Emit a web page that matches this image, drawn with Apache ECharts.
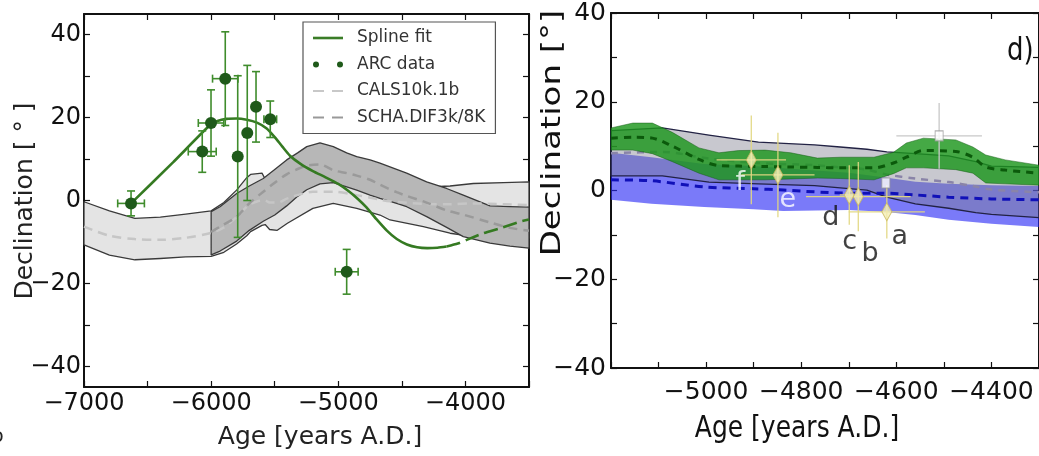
<!DOCTYPE html>
<html><head><meta charset="utf-8">
<script src="https://cdn.jsdelivr.net/npm/echarts@6/dist/echarts.min.js"></script>
<style>html,body{margin:0;padding:0;background:#fff;}#c{width:1039px;height:456px;}</style>
</head><body><div id="c"></div>
<script>
// ---------- LEFT PANEL DATA ----------
const leftXLabels = [-7000, -6000, -5000, -4000];
const leftXTicks = [-7000, -6500, -6000, -5500, -5000, -4500, -4000, -3500];
const leftYLabels = [-40, -20, 0, 20, 40];
const leftYTicks = [-40, -30, -20, -10, 0, 10, 20, 30, 40];

const arcAge    = [-6630, -6070, -6001, -5889, -5791, -5716, -5647, -5535, -4934];
const arcDec    = [-0.7, 11.8, 18.7, 29.4, 10.6, 16.3, 22.6, 19.6, -17.2];
const arcAgeErr = [105, 110, 100, 100, 0, 0, 0, 50, 90];
const arcDecErr = [3, 5, 8, 11.3, 19.5, 16.3, 8.5, 4.4, 5.4];

const splineAge = [-6630, -6300, -6009, -5950, -5880, -5800, -5720, -5640, -5563, -5500, -5440, -5380, -5300, -5200, -5100, -5000, -4920, -4850, -4780, -4700, -4620, -4540, -4460, -4380, -4300, -4220, -4148];
const splineDec = [-0.7, 9.2, 18.2, 19.2, 19.7, 19.8, 19.5, 18.8, 17.4, 15.3, 13.0, 10.8, 8.9, 7.1, 5.6, 4.0, 2.3, 0.5, -1.6, -4.5, -7.2, -9.3, -10.6, -11.3, -11.5, -11.4, -11.1];
const splineExtAge = [-4148, -4060, -3990, -3859, -3728, -3571, -3500];
const splineExtDec = [-11.1, -10.4, -9.5, -7.9, -6.7, -5.1, -4.6];

const calsAge   = [-7000, -6800, -6600, -6400, -6200, -6000, -5900, -5800, -5720, -5690, -5600, -5575, -5540, -5480, -5400, -5200, -5040, -4855, -4672, -4593, -4331, -4121, -3938, -3700, -3500];
const calsUpper = [-0.3, -2.5, -4.3, -4.0, -3.3, -2.5, -0.5, 2.5, 5.5, 6.3, 6.6, 5.2, 4.5, 4.5, 5.0, 5.5, 5.0, 4.5, 3.8, 3.5, 3.2, 3.5, 4.1, 4.3, 4.5];
const calsLower = [-10.7, -13.2, -14.3, -14.0, -13.6, -13.5, -12.5, -10.5, -8.5, -7.5, -6.0, -5.8, -7.0, -7.2, -5.5, -1.9, -0.7, -1.9, -3.5, -4.7, -6.3, -7.9, -8.7, -9.0, -9.1];
const calsMid   = [-6.3, -8.5, -9.3, -9.5, -9.0, -7.8, -6.5, -4.0, -1.5, -0.8, 0.0, 0.0, -0.5, -0.5, 0.5, 2.1, 2.1, 1.3, 0.2, -0.2, -0.8, -0.9, -0.7, -0.9, -1.1];

const schaAge   = [-6000, -5930, -5799, -5700, -5590, -5500, -5406, -5320, -5248, -5144, -5039, -4934, -4855, -4750, -4672, -4541, -4462, -4305, -4148, -4017, -3807, -3650, -3500];
const schaUpper = [-2.7, -1.5, 1.7, 3.5, 5.3, 7.5, 9.8, 11.5, 13.0, 13.9, 13.0, 11.5, 10.6, 9.8, 9.0, 7.5, 6.6, 4.5, 2.9, 1.3, -1.3, -1.5, -1.6];
const schaLower = [-13.1, -12.2, -9.8, -7.2, -5.0, -3.5, -1.3, 1.0, 2.6, 4.0, 4.3, 3.3, 2.5, 1.3, 0.5, -0.7, -1.5, -3.9, -6.5, -8.7, -10.3, -11.0, -11.5];
const schaMid   = [-7.6, -6.3, -3.9, -0.7, 2.1, 4.3, 6.3, 7.6, 8.4, 8.7, 7.3, 6.6, 6.0, 5.0, 3.8, 2.0, 1.1, -0.5, -2.4, -3.4, -5.3, -6.6, -7.3];

// ---------- RIGHT PANEL DATA ----------
const rightXLabels = [-5000, -4800, -4600, -4400];
const rightYLabels = [-40, -20, 0, 20, 40];

const greenAge   = [-5200, -5154, -5113, -5071, -5015, -4973, -4932, -4876, -4822, -4766, -4718, -4647, -4606, -4579, -4543, -4475, -4439, -4412, -4371, -4300];
const greenUpper = [14.1, 15.2, 15.2, 13.1, 9.6, 8.5, 9.0, 9.1, 8.5, 7.3, 7.5, 7.5, 8.6, 10.7, 11.8, 11.4, 9.8, 8.0, 6.9, 5.7];
const greenLower = [9.1, 9.1, 8.3, 6.5, 3.9, 2.4, 2.4, 2.4, 2.6, 2.8, 2.7, 2.4, 3.8, 5.1, 5.1, 4.7, 3.9, 1.7, 1.5, 1.2];
const greenMid   = [11.8, 12.0, 11.8, 10.0, 7.0, 5.6, 5.5, 5.4, 5.3, 5.2, 5.1, 5.1, 6.2, 7.5, 9.0, 8.8, 7.5, 5.3, 4.6, 3.9];

const blueAge   = [-5200, -5115, -5004, -4900, -4838, -4700, -4627, -4560, -4490, -4400, -4300];
const blueUpper = [8.5, 7.5, 6.0, 5.5, 5.0, 4.0, 3.0, 2.0, 1.5, 1.2, 1.0];
const blueLower = [-2.1, -3.0, -3.7, -4.2, -4.6, -4.4, -4.8, -5.5, -6.6, -7.5, -8.2];
const blueMid   = [2.4, 2.2, 0.8, 0.4, 0.1, -0.6, -0.6, -1.0, -1.5, -1.9, -2.1];

const greyAge   = [-5200, -5092, -4994, -4890, -4772, -4718, -4662, -4620, -4560, -4490, -4433, -4400, -4300];
const greyUpper = [13.5, 14.1, 12.5, 10.9, 10.3, 9.8, 9.3, 8.7, 8.3, 7.8, 6.5, 5.5, 5.2];
const greyLower = [3.3, 3.3, 1.9, 1.5, 1.1, 0.6, 0.1, -1.5, -3.0, -4.0, -5.0, -5.4, -6.1];
const greyMid   = [8.4, 8.7, 7.2, 6.2, 5.7, 5.2, 4.7, 3.6, 2.7, 1.9, 0.9, 0.2, -0.4];

const ptAge    = [-4905, -4849, -4699, -4680, -4620];
const ptDec    = [6.9, 3.5, -1.0, -1.4, -4.8];
const ptAgeErr = [73, 77, 20, 110, 80];
const ptDecErr = [10, 9.5, 6.7, 7.8, 6];

const openAge    = [-4510, -4622];
const openDec    = [12.3, 1.7];
const openAgeErr = [90, 0];
const openDecErr = [7.4, 0];

const letterText = ['f', 'e', 'd', 'c', 'b', 'a'];
const letterAge  = [-4928, -4828, -4738, -4698, -4655, -4593];
const letterDec  = [1.8, -2.1, -6.3, -11.7, -14.2, -10.4];

// ---------- helpers ----------
const FONT = '"DejaVu Sans", sans-serif';
const minus = v => (v < 0 ? '\u2212' + Math.abs(v) : String(v));
const pairs = (xs, ys) => xs.map((x, i) => [x, ys[i]]);

function band(name, ages, upper, lower, xi, yi, fill, stroke, lw, z) {
  return {
    type: 'custom', name, xAxisIndex: xi, yAxisIndex: yi, z, silent: true,
    data: [[ages[0], upper[0]]], encode: { x: 0, y: 1 },
    renderItem: (p, api) => {
      const pts = ages.map((a, i) => api.coord([a, upper[i]]));
      for (let i = ages.length - 1; i >= 0; i--) pts.push(api.coord([ages[i], lower[i]]));
      return { type: 'polygon', shape: { points: pts }, style: { fill, stroke, lineWidth: lw, lineJoin: 'round' } };
    }
  };
}
function errs(name, xs, ys, exs, eys, xi, yi, color, lw, cap, z) {
  return {
    type: 'custom', name, xAxisIndex: xi, yAxisIndex: yi, z, silent: true,
    data: xs.map((x, i) => [x, ys[i], exs[i], eys[i]]), encode: { x: 0, y: 1 },
    renderItem: (p, api) => {
      const x = api.value(0), y = api.value(1), ex = api.value(2), ey = api.value(3);
      const st = { stroke: color, lineWidth: lw };
      const ch = [];
      const seg = (a, b) => ch.push({ type: 'line', shape: { x1: a[0], y1: a[1], x2: b[0], y2: b[1] }, style: st });
      if (ey > 0) {
        const t = api.coord([x, y + ey]), b = api.coord([x, y - ey]);
        seg(t, b);
        if (cap) { seg([t[0] - cap, t[1]], [t[0] + cap, t[1]]); seg([b[0] - cap, b[1]], [b[0] + cap, b[1]]); }
      }
      if (ex > 0) {
        const l = api.coord([x - ex, y]), r = api.coord([x + ex, y]);
        seg(l, r);
        if (cap) { seg([l[0], l[1] - cap], [l[0], l[1] + cap]); seg([r[0], r[1] - cap], [r[0], r[1] + cap]); }
      }
      return { type: 'group', children: ch };
    }
  };
}
function line(name, xs, ys, xi, yi, color, width, type, z, smooth) {
  return {
    type: 'line', name, xAxisIndex: xi, yAxisIndex: yi, z, silent: true,
    data: pairs(xs, ys), showSymbol: false, symbol: 'none', smooth: smooth || false,
    lineStyle: { color, width, type, cap: 'butt' }, itemStyle: { color }
  };
}
const axLine = { show: true, onZero: false, lineStyle: { color: '#111', width: 2 } };
function xAx(grid, min, max, pos, labels, ticks, fs, margin, interval) {
  const o = {
    type: 'value', gridIndex: grid, min, max, position: pos, axisLine: axLine, splitLine: { show: false },
    axisTick: { show: true, inside: true, length: 6, lineStyle: { color: '#111', width: 1.2 } },
    axisLabel: { show: !!labels, fontSize: fs, fontFamily: FONT, color: '#111', margin, formatter: minus, hideOverlap: false }
  };
  if (interval) o.interval = interval;
  if (labels) o.axisLabel.customValues = labels;
  if (ticks) o.axisTick.customValues = ticks;
  return o;
}
const yAx = xAx;

// ---------- chart ----------
const chart = echarts.init(document.getElementById('c'), null, { renderer: 'canvas' });
const legendDash = 'path://M0,0H11V2.2H0ZM19,0H30V2.2H19Z';
chart.setOption({
  animation: false,
  backgroundColor: '#fff',
  grid: [
    { left: 84, top: 14, width: 445, height: 373 },
    { left: 611, top: 13, width: 434, height: 355 }
  ],
  xAxis: [
    xAx(0, -7000, -3500, 'bottom', leftXLabels, leftXTicks, 24, 5),
    xAx(0, -7000, -3500, 'top', null, leftXTicks, 24, 5),
    xAx(1, -5200, -4300, 'bottom', rightXLabels, null, 25, 12, 100),
    xAx(1, -5200, -4300, 'top', null, null, 25, 12, 100)
  ],
  yAxis: [
    yAx(0, -45, 45, 'left', leftYLabels, leftYTicks, 24, 3),
    yAx(0, -45, 45, 'right', null, leftYTicks, 24, 3),
    yAx(1, -40, 40, 'left', rightYLabels, null, 25, 5, 10),
    yAx(1, -40, 40, 'right', null, null, 25, 5, 10)
  ],
  legend: {
    left: 303, top: 22, orient: 'vertical', selectedMode: false,
    padding: [6, 10, 6, 10], itemGap: 6.5, itemWidth: 30, itemHeight: 14,
    borderColor: '#555', borderWidth: 1.2, backgroundColor: '#fff',
    textStyle: { fontSize: 17, fontFamily: FONT, color: '#333', lineHeight: 20, padding: [0, 0, 0, 9] },
    data: [
      { name: 'Spline fit', icon: 'path://M0,0H30V2.6H0Z', itemStyle: { color: '#3a7d27' } },
      { name: 'ARC data', icon: 'path://M0,3A3,3,0,1,1,6,3A3,3,0,1,1,0,3ZM24,3A3,3,0,1,1,30,3A3,3,0,1,1,24,3Z', itemStyle: { color: '#1f5a1a' } },
      { name: 'CALS10k.1b', icon: legendDash, itemStyle: { color: '#c8c8c8' } },
      { name: 'SCHA.DIF3k/8K', icon: legendDash, itemStyle: { color: '#999999' } }
    ]
  },
  series: [
    // left panel
    band('CALS band', calsAge, calsUpper, calsLower, 0, 0, '#e4e4e4', '#3a3a3a', 1.3, 1),
    band('SCHA band', schaAge, schaUpper, schaLower, 0, 0, '#b7b7b7', '#3a3a3a', 1.3, 2),
    line('CALS10k.1b', calsAge, calsMid, 0, 0, '#c6c6c6', 2.5, [9, 6], 3, 0.3),
    line('SCHA.DIF3k/8K', schaAge, schaMid, 0, 0, '#9a9a9a', 2.5, [9, 6], 3, 0.3),
    line('Spline fit', splineAge, splineDec, 0, 0, '#357a22', 2.6, 'solid', 4, 0.2),
    line('Spline ext', splineExtAge, splineExtDec, 0, 0, '#357a22', 2.6, [14, 6], 4, 0.2),
    errs('ARC err', arcAge, arcDec, arcAgeErr, arcDecErr, 0, 0, '#3f8c2c', 1.6, 4, 5),
    { type: 'scatter', name: 'ARC data', xAxisIndex: 0, yAxisIndex: 0, z: 6, silent: true,
      data: pairs(arcAge, arcDec), symbol: 'circle', symbolSize: 12, itemStyle: { color: '#1f5a1a', opacity: 1 } },
    // right panel
    band('blue band', blueAge, blueUpper, blueLower, 2, 2, 'rgba(40,40,245,0.62)', 'rgba(40,40,245,0.0)', 0, 1),
    band('grey band', greyAge, greyUpper, greyLower, 2, 2, 'rgba(125,125,140,0.42)', '#222244', 1.3, 2),
    line('grey mid', greyAge, greyMid, 2, 2, '#8a84a8', 2.5, [7, 6], 2, 0.3),
    band('green band', greenAge, greenUpper, greenLower, 2, 2, 'rgba(28,150,28,0.82)', 'rgba(20,90,20,0.6)', 0.8, 3),
    line('blue mid', blueAge, blueMid, 2, 2, '#1010b8', 3, [8, 6], 4, 0.3),
    line('green mid', greenAge, greenMid, 2, 2, '#0b5a0b', 3, [7, 6], 4, 0.3),
    errs('pt err', ptAge, ptDec, ptAgeErr, ptDecErr, 2, 2, 'rgba(225,215,130,0.95)', 1.3, 0, 5),
    errs('open err', openAge, openDec, openAgeErr, openDecErr, 2, 2, '#c8c8c8', 1.3, 0, 5),
    { type: 'scatter', name: 'pts', xAxisIndex: 2, yAxisIndex: 2, z: 6, silent: true,
      data: pairs(ptAge, ptDec), symbol: 'diamond', symbolSize: [10, 18],
      itemStyle: { color: '#f4eeb4', borderColor: '#c9b85c', borderWidth: 1 } },
    { type: 'scatter', name: 'open', xAxisIndex: 2, yAxisIndex: 2, z: 6, silent: true,
      data: pairs(openAge, openDec), symbol: 'rect', symbolSize: [8, 10],
      itemStyle: { color: '#ffffff', borderColor: '#9a9a9a', borderWidth: 1 } },
    { type: 'scatter', name: 'letters', xAxisIndex: 2, yAxisIndex: 2, z: 7, silent: true, symbolSize: 0,
      data: letterAge.map((a, i) => ({ value: [a, letterDec[i]], label: { color: i < 2 ? '#ffffff' : '#111111' } })),
      label: { show: true, position: 'inside', fontSize: 27, fontFamily: FONT,
        formatter: p => letterText[p.dataIndex] } }
  ],
  graphic: [
    { type: 'text', x: 25, y: 201, rotation: Math.PI / 2, z: 10,
      style: { text: 'Declination [ \u00b0 ]', font: '25px ' + FONT, fill: '#222', align: 'center', verticalAlign: 'middle' } },
    { type: 'text', x: 320, y: 437, z: 10,
      style: { text: 'Age [years A.D.]', font: '25px ' + FONT, fill: '#222', align: 'center', verticalAlign: 'middle' } },
    { type: 'text', x: 553, y: 133, rotation: Math.PI / 2, scaleX: 1.26, z: 10,
      style: { text: 'Declination [\u00b0]', font: '27px ' + FONT, fill: '#111', align: 'center', verticalAlign: 'middle' } },
    { type: 'text', x: 797, y: 429, scaleY: 1.2, z: 10,
      style: { text: 'Age [years A.D.]', font: '25px ' + FONT, fill: '#111', align: 'center', verticalAlign: 'middle' } },
    { type: 'text', x: 1007, y: 52, scaleY: 1.25, z: 10,
      style: { text: 'd)', font: '26px ' + FONT, fill: '#111', align: 'left', verticalAlign: 'middle' } },
    { type: 'text', x: -9, y: 437, z: 10,
      style: { text: 'b', font: '20px ' + FONT, fill: '#222', align: 'left', verticalAlign: 'middle' } }
  ]
});
</script></body></html>
